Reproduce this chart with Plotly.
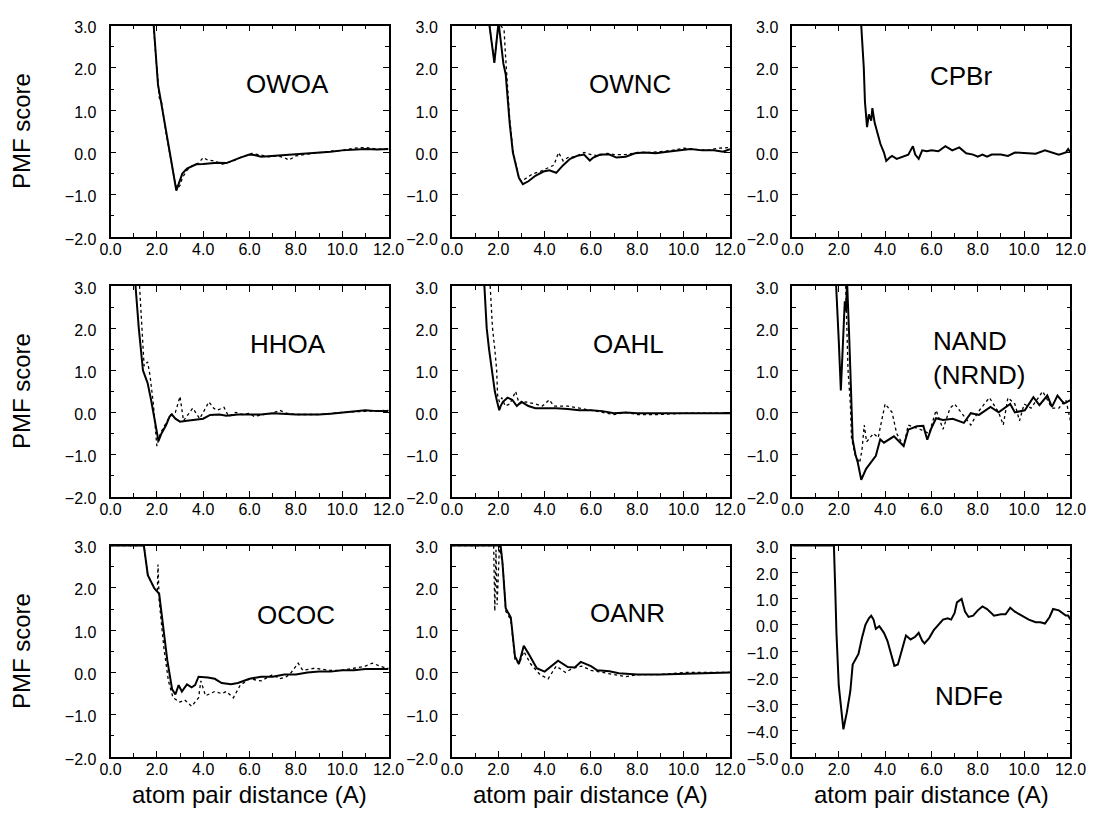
import plotly.graph_objects as go

# ---------------- data ----------------
OWOA_solid_x = [1.6,1.85,1.95,2.0,2.05,2.1,2.15,2.4,2.6,2.84,2.95,3.1,3.3,3.5,3.7,4.0,4.3,4.6,5.0,5.3,5.6,6.0,6.2,6.5,7.0,7.5,8.0,8.5,9.0,9.5,10.0,10.5,11.0,11.5,12.0]
OWOA_solid_y = [5.0,3.0,2.3,2.0,1.6,1.45,1.3,0.5,-0.13,-0.9,-0.75,-0.5,-0.38,-0.32,-0.28,-0.27,-0.25,-0.24,-0.25,-0.18,-0.12,-0.05,-0.06,-0.1,-0.08,-0.06,-0.05,-0.02,0.0,0.02,0.05,0.06,0.08,0.07,0.08]
OWOA_dot_x = [1.6,1.85,1.95,2.05,2.1,2.2,2.4,2.6,2.8,2.88,3.0,3.1,3.3,3.5,3.8,4.0,4.2,4.5,4.8,5.0,5.3,5.6,5.9,6.1,6.4,6.8,7.2,7.5,7.7,8.0,8.5,9.0,9.5,10.0,10.5,11.0,11.5,12.0]
OWOA_dot_y = [5.0,3.0,2.3,1.7,1.3,1.2,0.45,-0.15,-0.75,-0.85,-0.78,-0.6,-0.42,-0.32,-0.25,-0.12,-0.18,-0.2,-0.28,-0.25,-0.2,-0.12,-0.05,-0.02,-0.05,-0.1,-0.08,-0.12,-0.18,-0.08,-0.04,0.0,0.03,0.05,0.1,0.12,0.08,0.08]

OWNC_solid_x = [1.5,1.62,1.83,2.01,2.22,2.32,2.49,2.63,2.89,3.06,3.3,3.6,3.95,4.2,4.5,4.8,5.1,5.4,5.7,5.95,6.1,6.4,6.8,7.1,7.5,7.9,8.3,8.8,9.3,9.8,10.3,10.8,11.3,11.7,12.0]
OWNC_solid_y = [4.0,3.0,2.12,3.08,2.1,1.85,0.7,0.0,-0.6,-0.75,-0.68,-0.55,-0.45,-0.42,-0.48,-0.3,-0.15,-0.08,-0.05,-0.19,-0.12,-0.05,-0.05,-0.12,-0.1,-0.02,0.0,-0.02,0.02,0.05,0.08,0.05,0.05,0.02,0.08]
OWNC_dot_x = [1.5,1.62,1.83,2.01,2.1,2.25,2.3,2.49,2.63,2.9,3.0,3.2,3.5,3.8,4.1,4.4,4.6,4.8,5.0,5.3,5.7,6.0,6.3,6.7,7.0,7.5,8.0,8.5,9.0,9.5,10.0,10.5,11.0,11.5,12.0]
OWNC_dot_y = [4.0,3.0,2.15,3.05,3.0,2.9,2.4,0.8,0.05,-0.62,-0.68,-0.6,-0.5,-0.45,-0.38,-0.3,0.0,-0.2,-0.12,-0.1,0.0,-0.05,-0.08,-0.02,-0.05,-0.05,0.0,0.0,0.02,0.05,0.1,0.08,0.05,0.1,0.12]

CPBr_solid_x = [2.9,2.97,3.08,3.13,3.22,3.3,3.4,3.45,3.55,3.7,3.8,3.95,4.05,4.2,4.3,4.5,4.8,5.0,5.2,5.3,5.45,5.6,5.8,6.0,6.3,6.6,6.9,7.2,7.5,7.8,8.0,8.2,8.4,8.6,9.0,9.3,9.6,10.0,10.5,10.9,11.2,11.5,11.8,11.9,12.0]
CPBr_solid_y = [4.0,3.0,2.0,1.2,0.6,0.9,0.75,1.05,0.7,0.4,0.2,0.0,-0.2,-0.12,-0.08,-0.15,-0.1,-0.05,0.15,-0.05,-0.15,0.05,0.03,0.05,0.03,0.15,0.05,0.12,-0.02,-0.05,-0.1,-0.05,-0.1,-0.05,-0.05,-0.08,0.0,-0.02,-0.03,0.05,0.0,-0.05,0.0,0.08,0.0]

HHOA_solid_x = [1.0,1.08,1.22,1.4,1.5,1.6,1.75,1.85,2.07,2.2,2.4,2.55,2.65,2.8,3.0,3.3,3.7,4.0,4.3,4.7,5.0,5.5,6.0,6.5,7.0,7.5,8.0,8.5,9.0,9.5,10.0,10.5,11.0,11.5,12.0]
HHOA_solid_y = [4.0,3.0,2.0,1.0,0.85,0.7,0.3,0.0,-0.68,-0.5,-0.3,-0.1,-0.05,-0.15,-0.22,-0.2,-0.18,-0.15,-0.06,-0.05,-0.08,-0.05,-0.05,-0.05,-0.02,-0.04,-0.05,-0.05,-0.05,-0.03,0.0,0.02,0.05,0.03,0.03]
HHOA_dot_x = [1.15,1.26,1.35,1.45,1.6,1.7,1.85,2.0,2.15,2.3,2.6,2.8,3.0,3.15,3.35,3.55,3.85,4.05,4.25,4.45,4.6,4.9,5.1,5.4,5.7,6.0,6.2,6.6,7.0,7.3,7.6,8.0,9.0,10.0,11.0,12.0]
HHOA_dot_y = [4.0,3.0,2.3,1.1,1.2,0.9,0.2,-0.8,-0.5,-0.35,-0.05,0.0,0.38,-0.2,-0.05,0.1,-0.15,0.05,0.25,0.1,0.05,0.12,-0.1,0.0,-0.05,-0.02,-0.1,-0.05,-0.02,0.05,-0.02,-0.05,-0.05,0.0,0.03,0.05]

OAHL_solid_x = [1.3,1.41,1.5,1.6,1.73,1.85,1.95,2.04,2.1,2.2,2.4,2.6,2.8,3.0,3.3,3.6,4.0,4.5,5.0,5.5,6.0,6.5,7.0,7.5,8.0,9.0,10.0,11.0,12.0]
OAHL_solid_y = [4.0,3.0,2.0,1.5,1.0,0.5,0.25,0.05,0.15,0.25,0.35,0.3,0.15,0.25,0.15,0.1,0.1,0.1,0.08,0.05,0.05,0.03,-0.02,0.0,-0.02,-0.02,-0.02,-0.02,-0.02]
OAHL_dot_x = [1.55,1.65,1.75,1.85,1.93,1.97,2.05,2.15,2.3,2.5,2.75,2.9,3.2,3.6,3.9,4.2,4.4,5.0,5.5,6.0,6.5,7.0,7.5,8.0,9.0,10.0,11.0,12.0]
OAHL_dot_y = [4.0,3.0,2.0,1.5,1.0,0.4,0.25,0.35,0.15,0.2,0.5,0.2,0.25,0.2,0.15,0.3,0.15,0.15,0.1,0.05,0.0,-0.05,0.0,-0.05,-0.05,-0.02,-0.02,-0.02]

NAND_solid_x = [1.8,1.9,2.0,2.09,2.18,2.26,2.31,2.36,2.45,2.6,2.72,2.82,2.97,3.18,3.6,3.79,3.95,4.38,4.8,5.0,5.37,5.65,5.82,6.0,6.2,6.5,6.92,7.2,7.4,7.7,8.05,8.55,8.9,9.4,9.6,10.03,10.4,10.66,11.0,11.2,11.44,11.72,12.0]
NAND_solid_y = [4.0,3.0,1.7,0.52,1.6,2.64,2.4,3.1,1.8,-0.65,-1.0,-1.19,-1.6,-1.34,-1.03,-0.64,-0.72,-0.57,-0.8,-0.41,-0.33,-0.32,-0.65,-0.37,-0.14,-0.18,-0.15,-0.2,-0.25,-0.02,-0.06,0.13,0.0,0.2,0.0,0.05,0.36,0.17,0.4,0.13,0.4,0.21,0.29]
NAND_dot_x = [2.2,2.3,2.4,2.5,2.55,2.7,2.9,3.0,3.1,3.2,3.5,3.7,4.0,4.3,4.5,4.8,5.0,5.5,5.9,6.2,6.5,6.8,7.0,7.4,7.7,8.0,8.3,8.5,8.9,9.1,9.3,9.6,9.8,10.0,10.3,10.8,11.2,11.5,11.8,12.0]
NAND_dot_y = [4.0,3.0,1.0,0.2,-0.6,-1.0,-1.2,-0.9,-0.3,-0.7,-0.5,-0.6,0.2,0.0,-0.5,-0.8,-0.3,-0.4,-0.5,0.05,-0.4,0.1,0.2,-0.1,-0.3,0.0,0.2,0.35,0.0,-0.3,0.35,0.2,-0.2,0.2,0.1,0.5,0.1,0.1,0.3,-0.2]

OCOC_solid_x = [0.0,1.44,1.61,1.89,2.1,2.2,2.31,2.45,2.66,2.8,2.94,3.08,3.3,3.5,3.65,3.8,4.2,4.5,4.8,5.2,5.5,6.0,6.5,7.0,7.5,8.0,8.5,9.0,9.5,10.0,10.5,11.0,11.5,12.0]
OCOC_solid_y = [3.0,3.0,2.3,1.99,1.86,1.4,0.83,0.29,-0.4,-0.52,-0.3,-0.45,-0.28,-0.35,-0.3,-0.1,-0.12,-0.15,-0.25,-0.28,-0.25,-0.15,-0.1,-0.1,-0.05,-0.05,0.0,0.02,0.02,0.05,0.05,0.08,0.08,0.08]
OCOC_dot_x = [0.0,1.44,1.61,1.89,2.02,2.05,2.1,2.3,2.5,2.7,3.0,3.2,3.5,3.8,3.9,4.1,4.5,4.8,5.0,5.3,5.6,6.0,6.5,7.0,7.3,7.6,7.8,8.1,8.3,8.8,9.5,10.0,10.5,11.0,11.3,11.8,12.0]
OCOC_dot_y = [3.0,3.0,2.3,1.99,1.9,2.55,1.7,0.6,-0.2,-0.6,-0.7,-0.65,-0.8,-0.6,-0.2,-0.55,-0.45,-0.5,-0.45,-0.6,-0.3,-0.15,-0.2,-0.05,-0.15,-0.1,0.0,0.22,0.05,0.1,0.05,0.05,0.1,0.15,0.22,0.12,0.1]

OANR_solid_x = [0.0,2.1,2.18,2.32,2.54,2.72,2.89,3.1,3.31,3.66,4.0,4.3,4.58,5.0,5.3,5.56,6.0,6.27,6.8,7.2,8.0,9.0,10.0,11.0,12.0]
OANR_solid_y = [3.0,3.0,2.6,1.52,1.3,0.38,0.2,0.63,0.44,0.1,0.02,0.15,0.28,0.13,0.12,0.25,0.15,0.05,0.03,-0.02,-0.05,-0.05,-0.03,-0.02,0.0]
OANR_dot_x = [0.0,1.8,1.85,1.9,1.95,2.0,2.05,2.2,2.32,2.54,2.72,2.9,3.1,3.4,3.8,4.15,4.5,4.9,5.2,5.6,6.0,6.5,7.0,7.5,8.0,9.0,10.0,11.0,12.0]
OANR_dot_y = [3.0,3.0,1.45,2.9,1.6,2.4,3.0,2.5,1.45,1.25,0.3,0.2,0.5,0.2,-0.05,-0.15,0.15,0.0,0.1,0.15,0.05,0.0,-0.05,-0.1,-0.05,-0.05,0.0,0.0,0.0]

NDFe_solid_x = [0.0,1.79,1.85,1.9,2.0,2.1,2.2,2.35,2.5,2.6,2.85,3.0,3.15,3.3,3.4,3.5,3.6,3.75,3.95,4.1,4.3,4.4,4.55,4.7,4.9,5.1,5.3,5.45,5.6,5.7,5.9,6.1,6.3,6.5,6.7,6.85,7.0,7.1,7.3,7.45,7.6,7.8,8.0,8.2,8.4,8.7,9.0,9.2,9.4,9.6,9.9,10.2,10.5,10.7,10.9,11.1,11.25,11.5,11.8,11.9,12.0]
NDFe_solid_y = [3.0,3.0,1.3,-0.3,-2.3,-3.2,-3.95,-3.3,-2.5,-1.5,-1.1,-0.5,0.0,0.25,0.35,0.2,-0.15,-0.05,-0.3,-0.6,-1.3,-1.55,-1.5,-1.0,-0.4,-0.55,-0.45,-0.3,-0.6,-0.7,-0.5,-0.2,0.0,0.2,0.25,0.2,0.45,0.85,0.98,0.5,0.3,0.35,0.55,0.7,0.6,0.35,0.4,0.4,0.65,0.5,0.35,0.2,0.1,0.1,0.05,0.3,0.6,0.55,0.35,0.35,0.2]

panel_names = ["OWOA", "OWNC", "CPBr", "HHOA", "OAHL", "NAND<br>(NRND)", "OCOC", "OANR", "NDFe"]
panel_label_pos = [(7.66, 1.61), (7.7, 1.61), (7.28, 1.80), (7.66, 1.63), (7.62, 1.63),
                   (5.98, 1.28), (7.99, 1.36), (7.57, 1.40), (7.6, -2.7)]
panel_solid = [(OWOA_solid_x, OWOA_solid_y), (OWNC_solid_x, OWNC_solid_y), (CPBr_solid_x, CPBr_solid_y),
               (HHOA_solid_x, HHOA_solid_y), (OAHL_solid_x, OAHL_solid_y), (NAND_solid_x, NAND_solid_y),
               (OCOC_solid_x, OCOC_solid_y), (OANR_solid_x, OANR_solid_y), (NDFe_solid_x, NDFe_solid_y)]
panel_dot = [(OWOA_dot_x, OWOA_dot_y), (OWNC_dot_x, OWNC_dot_y), None,
             (HHOA_dot_x, HHOA_dot_y), (OAHL_dot_x, OAHL_dot_y), (NAND_dot_x, NAND_dot_y),
             (OCOC_dot_x, OCOC_dot_y), (OANR_dot_x, OANR_dot_y), None]
y_ranges = [[-2, 3]] * 8 + [[-5, 3]]
x_title = "atom pair distance (A)"
y_title = "PMF score"

# ---------------- layout geometry ----------------
W, H = 1105, 819
col_px = [(102, 387), (452, 737), (801, 1086)]
row_px = [(20, 236), (286, 501), (551, 767)]

FONT = "Liberation Sans, Arial, Helvetica, sans-serif"
fig = go.Figure()
layout = dict(width=W, height=H, margin=dict(l=0, r=0, t=0, b=0),
              paper_bgcolor="white", plot_bgcolor="white", showlegend=False,
              font=dict(family=FONT, size=16, color="black"))
annotations = []

for i in range(9):
    r, c = divmod(i, 3)
    n = "" if i == 0 else str(i + 1)
    xd = [col_px[c][0] / W, col_px[c][1] / W]
    yd = [1 - row_px[r][1] / H, 1 - row_px[r][0] / H]
    common = dict(showline=True, linecolor="black", linewidth=1.8, mirror="allticks",
                  ticks="inside", ticklen=6, tickwidth=1.4, tickcolor="black",
                  showgrid=False, zeroline=False, tickformat=".1f",
                  tickfont=dict(family=FONT, size=16, color="black"))
    layout["xaxis" + n] = dict(domain=xd, anchor="y" + n, range=[0, 12], dtick=2, tick0=0,
                               minor=dict(ticks="inside", ticklen=4, dtick=1, tickcolor="black", tickwidth=1.3),
                               ticklabelstandoff=-3, **common)
    layout["yaxis" + n] = dict(domain=yd, anchor="x" + n, range=y_ranges[i], dtick=1, tick0=0,
                               minor=dict(ticks="inside", ticklen=4, dtick=0.5, tickcolor="black", tickwidth=1.3),
                               ticklabelstandoff=9, ticklabelshift=2, **common)
    sx, sy = panel_solid[i]
    fig.add_trace(go.Scatter(x=sx, y=sy, mode="lines", xaxis="x" + n, yaxis="y" + n,
                             line=dict(color="black", width=2.0)))
    if panel_dot[i] is not None:
        dx, dy = panel_dot[i]
        fig.add_trace(go.Scatter(x=dx, y=dy, mode="lines", xaxis="x" + n, yaxis="y" + n,
                                 line=dict(color="black", width=1.3, dash="dot")))
    lx, ly = panel_label_pos[i]
    is_multi = "<br>" in panel_names[i]
    annotations.append(dict(x=lx, y=ly, xref="x" + n, yref="y" + n, text=panel_names[i],
                            showarrow=False, font=dict(family=FONT, size=26, color="black"),
                            xanchor="left" if is_multi else "center", align="left", yanchor="middle"))
    if c == 0:
        annotations.append(dict(x=11 / W, y=1 - (row_px[r][0] + row_px[r][1]) / 2 / H,
                                xref="paper", yref="paper", text=y_title, textangle=-90,
                                showarrow=False, font=dict(family=FONT, size=24, color="black"),
                                xanchor="center", yanchor="middle"))
    if r == 2:
        annotations.append(dict(x=(col_px[c][0] + col_px[c][1]) / 2 / W, y=1 - 805 / H,
                                xref="paper", yref="paper", text=x_title,
                                showarrow=False, font=dict(family=FONT, size=24, color="black"),
                                xanchor="center", yanchor="middle"))

layout["annotations"] = annotations
fig.update_layout(**layout)
fig.write_html("out.html")
